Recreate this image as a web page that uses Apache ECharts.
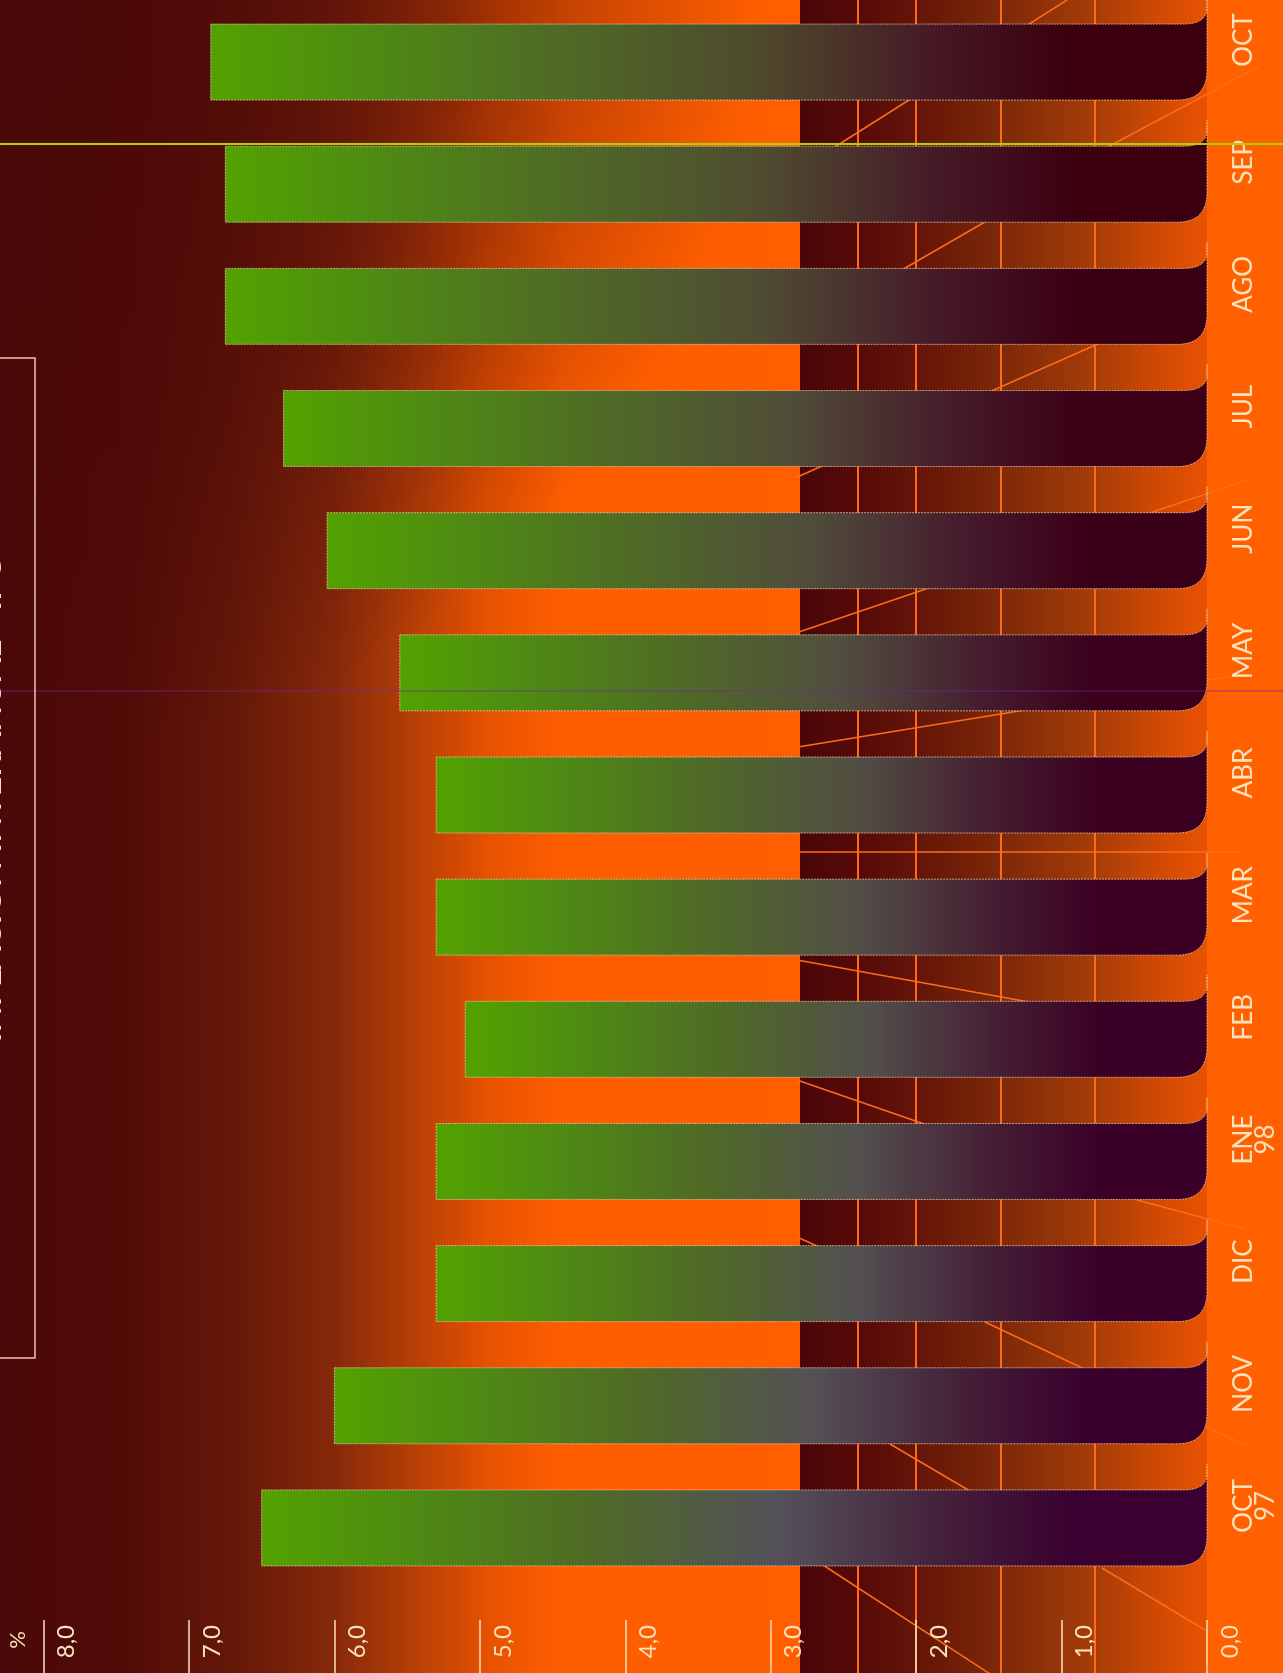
<!DOCTYPE html>
<html><head><meta charset="utf-8">
<script src="https://cdn.jsdelivr.net/npm/echarts@6/dist/echarts.min.js"></script>
<style>html,body{margin:0;padding:0;background:#4a0808;overflow:hidden}#c{width:1283px;height:1673px}</style>
</head><body><div id="c"></div>
<script>
// ---- data ----
const categories = ['OCT\n97','NOV','DIC','ENE\n98','FEB','MAR','ABR','MAY','JUN','JUL','AGO','SEP','OCT'];
const values = [6.5, 6.0, 5.3, 5.3, 5.1, 5.3, 5.3, 5.55, 6.05, 6.35, 6.75, 6.75, 6.85];
const valueTicks = [0, 1, 2, 3, 4, 5, 6, 7, 8];
const unitLabel = '%';
const titleText = 'INFLACIÓN INTERANUAL - IPC';

// ---- styling helpers ----
const FONT = 'Lato, "Open Sans", sans-serif';
const CREAM = '#fbe2bd';
function hexToRgb(h){h=h.replace('#','');return [parseInt(h.slice(0,2),16),parseInt(h.slice(2,4),16),parseInt(h.slice(4,6),16)];}
function mixHex(a,b,t){const A=hexToRgb(a),B=hexToRgb(b);return 'rgb('+A.map((v,k)=>Math.round(v+(B[k]-v)*t)).join(',')+')';}

function renderItem(params, api){
  const i = api.value(1), v = api.value(0);
  const p0 = api.coord([0, i]), p1 = api.coord([v, i]);
  const bw = api.size([0, 1])[1] * 0.622;
  const xb = p0[0], xl = p1[0], yc = p0[1];
  const yt = yc - bw/2, yb = yc + bw/2, r = 30;
  const d = 'M'+xl+' '+yt+' L'+(xb-24)+' '+yt+' Q'+(xb-2)+' '+yt+' '+xb+' '+(yt-14)+
            ' L'+xb+' '+(yt-26)+' L'+xb+' '+(yb-r)+' Q'+xb+' '+yb+' '+(xb-r)+' '+yb+' L'+xl+' '+yb+' Z';
  const t = i/(categories.length-1);
  const midC = mixHex('#54505a','#4e4a2c',t);
  const m2 = mixHex('#44203a','#461a26',t);
  const endC = mixHex('#3a0030','#3c000e',t);
  return {
    type:'path',
    shape:{pathData:d},
    style:{
      fill:new echarts.graphic.LinearGradient(0,0,1,0,[
        {offset:0,color:'#53a200'},{offset:0.15,color:'#4e8c12'},{offset:0.35,color:'#4f6a26'},
        {offset:0.55,color:midC},{offset:0.72,color:m2},{offset:0.86,color:endC},{offset:1,color:endC}
      ]),
      stroke:'rgba(238,200,170,0.75)', lineWidth:1, lineDash:[2,1]
    }
  };
}

const diagLines = [
  [830,150,1067,0],[1100,151,1260,66],[900,271,990,219],[795,478,1100,343],
  [796,633,1250,479],[798,747,1240,675],[800,852,1240,852],[797,960,1040,1004],
  [797,1080,930,1126],[1100,1190,1245,1229],[797,1237,830,1252],[985,1322,1245,1445],
  [890,1444,975,1494],[800,1550,990,1674],[1102,1568,1210,1633]
];

const graphics = [
  {type:'rect', z:-10, shape:{x:0,y:0,width:1283,height:1673},
   style:{fill:new echarts.graphic.LinearGradient(0,0,1283,0,[
     {offset:0,color:'#4a0808'},{offset:0.1,color:'#520c08'},{offset:0.18,color:'#641808'},
     {offset:0.26,color:'#86290a'},{offset:0.32,color:'#b43e06'},{offset:0.38,color:'#e65200'},
     {offset:0.44,color:'#ff5e00'},{offset:1,color:'#ff6000'}],true)}},
  {type:'rect', z:-10, shape:{x:0,y:0,width:1283,height:900},
   style:{fill:new echarts.graphic.RadialGradient(0,0,760,[
     {offset:0,color:'rgba(74,8,8,0.9)'},{offset:0.6,color:'rgba(74,8,8,0.5)'},{offset:1,color:'rgba(74,8,8,0)'}],true)}},
  {type:'rect', z:-9, shape:{x:800,y:0,width:407,height:1673},
   style:{fill:new echarts.graphic.LinearGradient(800,0,1207,0,[
     {offset:0,color:'#4a0608'},{offset:0.14,color:'#560a08'},{offset:0.28,color:'#641408'},
     {offset:0.49,color:'#7c2808'},{offset:0.72,color:'#a63c08'},{offset:0.88,color:'#d04a04'},{offset:1,color:'#e85200'}],true)}}
];
[858,916,1001,1095].forEach(x=>graphics.push({type:'line',z:-8,shape:{x1:x,y1:0,x2:x,y2:1673},style:{stroke:'#ff6a14',lineWidth:2}}));
diagLines.forEach(l=>graphics.push({type:'line',z:-8,shape:{x1:l[0],y1:l[1],x2:l[2],y2:l[3]},style:{stroke:'#ff6c18',lineWidth:1.5}}));
graphics.push({type:'line',z:10,shape:{x1:0,y1:144,x2:1283,y2:144},style:{stroke:'#a8d400',lineWidth:2}});
graphics.push({type:'line',z:10,shape:{x1:0,y1:691,x2:1283,y2:691},style:{stroke:'rgba(110,40,170,0.45)',lineWidth:1.5}});
graphics.push({type:'rect',z:10,shape:{x:-10,y:358,width:45,height:1000},style:{fill:'none',stroke:'#f0c4b0',lineWidth:1.5}});
graphics.push({type:'text',z:10,x:7,y:800,rotation:Math.PI/2,
  style:{text:titleText,font:'600 34px '+FONT,fill:CREAM,align:'center',verticalAlign:'bottom',textAlign:'center',textVerticalAlign:'bottom'}});
graphics.push({type:'text',z:10,x:18,y:1640,rotation:Math.PI/2,
  style:{text:unitLabel,font:'22px '+FONT,fill:CREAM,align:'center',verticalAlign:'middle',textAlign:'center',textVerticalAlign:'middle'}});

const chart = echarts.init(document.getElementById('c'), null, {renderer:'canvas', width:1283, height:1673});
chart.setOption({
  animation:false,
  backgroundColor:'#4a0808',
  grid:{left:43.5, right:76, top:1, bottom:84},
  xAxis:{type:'value', min:valueTicks[0], max:valueTicks[valueTicks.length-1], interval:1, inverse:true,
    position:'bottom', offset:31, axisLine:{show:false}, splitLine:{show:false},
    axisTick:{show:true, length:53, lineStyle:{color:CREAM, width:1.5}},
    axisLabel:{rotate:90, margin:5, color:CREAM, fontFamily:FONT, fontSize:24, verticalAlign:'top', lineHeight:46,
      formatter:v=>v.toFixed(1).replace('.',',')}},
  yAxis:{type:'category', data:categories, position:'right', axisLine:{show:false}, axisTick:{show:false},
    splitLine:{show:false},
    axisLabel:{interval:0, rotate:90, margin:26, color:CREAM, fontFamily:FONT, fontSize:26, lineHeight:22, padding:[0,0,0,44]}},
  series:[{type:'custom', data:values.map((v,i)=>[v,i]), encode:{x:0,y:1}, renderItem:renderItem, clip:false}],
  graphic:{elements:graphics}
});
</script></body></html>
